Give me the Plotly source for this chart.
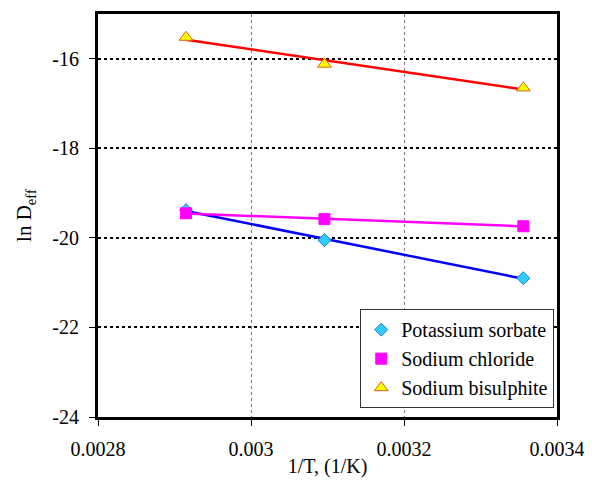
import numpy as np
import plotly.graph_objects as go

inv_T = [0.002915, 0.003096, 0.003356]
potassium_sorbate = [-19.38, -20.05, -20.90]
sodium_chloride = [-19.45, -19.58, -19.74]
sodium_bisulphite = [-15.52, -16.12, -16.65]

x_ticks = [0.0028, 0.003, 0.0032, 0.0034]
x_labels = ["0.0028", "0.003", "0.0032", "0.0034"]
y_ticks = [-24, -22, -20, -18, -16]
y_labels = ["-24", "-22", "-20", "-18", "-16"]

series = [
    ("Potassium sorbate", potassium_sorbate, "diamond", "#33CCFF", "#1f7fbf", "#0000FF", 10),
    ("Sodium chloride", sodium_chloride, "square", "#FF00FF", "#FF00FF", "#FF00FF", 11),
    ("Sodium bisulphite", sodium_bisulphite, "triangle-up", "#FFFF00", "#E06010", "#FF0000", 12),
]

FONT = "Liberation Serif"

fig = go.Figure()
xs = np.array(inv_T)
for name, ys, sym, fill, edge, lc, size in series:
    k, b = np.polyfit(xs, np.array(ys), 1)
    xl = np.array([xs.min(), xs.max()])
    fig.add_trace(go.Scatter(x=xl, y=k * xl + b, mode="lines",
                             line=dict(color=lc, width=2.5), showlegend=False, hoverinfo="skip"))
for name, ys, sym, fill, edge, lc, size in series:
    fig.add_trace(go.Scatter(x=inv_T, y=ys, mode="markers", name=name,
                             marker=dict(symbol=sym, size=size, color=fill,
                                         line=dict(color=edge, width=1))))

# page body has an 8px margin: figure is 584x478 placed at (8, 8)
fig.update_layout(
    width=584, height=478,
    margin=dict(l=90, r=35, t=3, b=69),
    paper_bgcolor="white", plot_bgcolor="white",
    font=dict(family=FONT, size=20, color="black"),
    legend=dict(x=0.994, y=0.022, xanchor="right", yanchor="bottom", xref="paper", yref="paper",
                bgcolor="white", bordercolor="#333333", borderwidth=1,
                font=dict(family=FONT, size=20), itemwidth=30, tracegroupgap=0),
    xaxis=dict(range=[0.0028, 0.0034], tickvals=x_ticks, ticktext=x_labels,
               tickfont=dict(family=FONT, size=20),
               showline=True, linecolor="black", linewidth=3, mirror=True,
               ticks="outside", ticklen=6, tickcolor="black", ticklabelstandoff=6,
               showgrid=True, gridcolor="#777777", gridwidth=1, griddash="dot",
               zeroline=False, automargin=True,
               title=dict(text="1/T, (1/K)", font=dict(family=FONT, size=20), standoff=0)),
    yaxis=dict(range=[-24, -15], tickvals=y_ticks, ticktext=y_labels,
               tickfont=dict(family=FONT, size=20),
               showline=True, linecolor="black", linewidth=3, mirror=True,
               ticks="outside", ticklen=6, tickcolor="black", ticklabelstandoff=6,
               showgrid=True, gridcolor="black", gridwidth=2, griddash="dot",
               zeroline=False, automargin=False,
               title=dict(text="ln D<sub>eff</sub>", font=dict(family=FONT, size=21))),
)

fig.write_html("out.html")
